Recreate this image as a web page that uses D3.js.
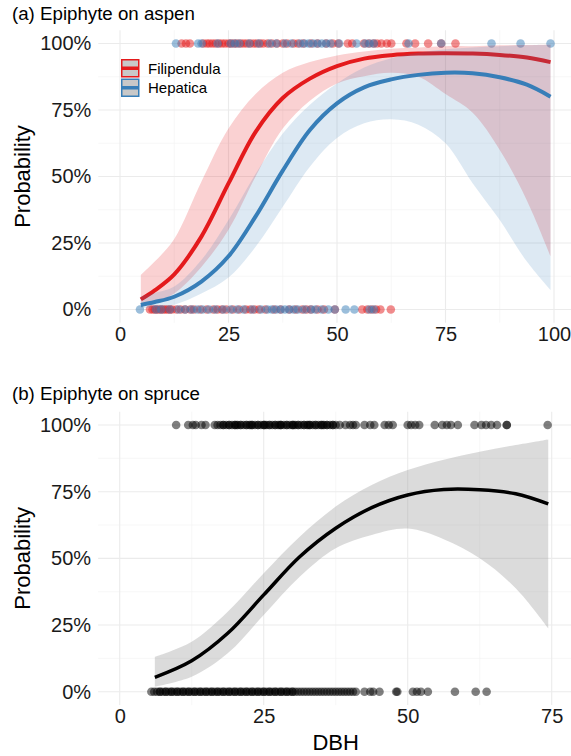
<!DOCTYPE html>
<html>
<head>
<meta charset="utf-8">
<script src="https://cdn.jsdelivr.net/npm/d3@7"></script>
<style>
  html, body { margin: 0; padding: 0; background: #fff; }
  svg { display: block; font-family: "Liberation Sans", Arial, Helvetica, sans-serif; }
</style>
</head>
<body>
<svg id="chart" width="571" height="756"></svg>
<script>
// ---------- data: epiphyte occurrence vs. tree diameter (DBH) ----------
// Aspen: observed presence (1) / absence (0) for each epiphyte
const filipendulaPresent = [14.2, 15.2, 16.1, 19.2, 20, 20.6, 21.3, 22, 22.8, 23.5, 24.2, 25, 25.6, 26.3, 27, 27.8, 28.5, 29.2, 30, 30.8, 31.5, 32.3, 33, 34, 35, 36.2, 37.5, 38.5, 40, 41, 42.2, 44, 45.5, 47.5, 49, 50.3, 52.5, 53.5, 56.2, 57.3, 58.4, 59.2, 60.2, 61.5, 62.5, 66, 68, 71, 74, 77.3];
const filipendulaAbsent = [6.9, 7.5, 8, 8.5, 9, 9.5, 10, 10.5, 11, 11.5, 12, 13, 14, 15, 16.2, 17, 18.5, 20, 21.5, 22.5, 23.5, 24.5, 26, 27.5, 29, 30, 31, 32, 33.5, 35.5, 37, 39, 40.5, 42, 43, 44, 45.5, 47, 49.5, 55.8, 57, 58, 59, 60, 62.4];
const hepaticaPresent = [12.9, 18, 18.8, 22.5, 25.5, 26.5, 27.5, 29.8, 32, 34.5, 36, 38, 39.5, 41.5, 42.5, 43.5, 44.5, 45.5, 46.5, 47.5, 48.5, 50.5, 54.5, 56.5, 57.5, 58.5, 66.5, 74, 85.6, 92.3, 99.2];
const hepaticaAbsent = [4.6, 8.3, 9.5, 11.5, 13.5, 15, 16.5, 17.8, 19, 20.5, 22, 23.8, 25.5, 27, 28.5, 30.5, 32.5, 34, 35, 36, 37, 38, 39, 40, 41, 42.5, 44, 45, 46.5, 48, 49.5, 52, 54, 57.5, 58.5];

// Aspen: fitted probability and confidence band
const aspenFitDBH = [4.8, 8, 12.5, 18.75, 25, 31.25, 37.5, 43.75, 50, 56.25, 62.5, 68.75, 75, 81.25, 87.5, 93.75, 99.2];
const filipendulaFit = [0.038, 0.072, 0.132, 0.274, 0.474, 0.668, 0.795, 0.868, 0.915, 0.943, 0.956, 0.962, 0.963, 0.962, 0.957, 0.947, 0.93];
const filipendulaUpper = [0.13, 0.18, 0.265, 0.48, 0.68, 0.81, 0.89, 0.93, 0.955, 0.97, 0.98, 0.985, 0.99, 0.99, 0.993, 0.994, 0.995];
const filipendulaLower = [0.01, 0.025, 0.06, 0.16, 0.30, 0.50, 0.68, 0.785, 0.85, 0.877, 0.89, 0.875, 0.81, 0.74, 0.60, 0.41, 0.2];
const hepaticaFit = [0.017, 0.028, 0.048, 0.105, 0.2, 0.35, 0.522, 0.675, 0.775, 0.835, 0.865, 0.882, 0.89, 0.888, 0.873, 0.845, 0.80];
const hepaticaUpper = [0.05, 0.062, 0.086, 0.186, 0.336, 0.51, 0.662, 0.77, 0.85, 0.91, 0.945, 0.965, 0.978, 0.985, 0.99, 0.993, 0.995];
const hepaticaLower = [0.004, 0.008, 0.018, 0.06, 0.12, 0.236, 0.386, 0.537, 0.645, 0.70, 0.715, 0.695, 0.625, 0.475, 0.336, 0.18, 0.073];

// Spruce: observed presence / absence
const sprucePresent = [9.8, 11.9, 12.7, 13.2, 14.2, 14.9, 16.5, 17, 17.5, 18, 18, 18.5, 19, 19, 19.5, 20, 20, 20.3, 20.5, 21, 21, 21.5, 22, 22, 22.5, 22.7, 23, 23, 23.5, 24, 24, 24.5, 25, 25, 25.2, 25.5, 26, 26, 26.5, 27, 27, 27.5, 27.8, 28, 28, 28.5, 29, 29, 29.5, 30, 30, 30.2, 30.5, 31, 31, 31.5, 32, 32, 32.5, 32.7, 33, 33, 33.5, 34, 34, 34.5, 35, 35, 35.3, 35.5, 36, 36, 36.5, 37, 37, 37.5, 38.2, 39.2, 40, 40.5, 41, 42.5, 43.5, 44.2, 46, 46.7, 47.4, 50, 50.6, 51.3, 52, 54.7, 56, 56.8, 57.5, 58.7, 61.6, 62.8, 63.6, 64.5, 65.5, 67.2, 67.2, 74.3];
const spruceAbsent = [5.5, 6, 6.5, 7, 7, 7.5, 8, 8, 8.5, 9, 9, 9.5, 10, 10, 10.5, 11, 11, 11.5, 12, 12, 12.5, 13, 13, 13.5, 14, 14, 14.5, 15, 15, 15.5, 16, 16, 16.5, 17, 17, 17.5, 18, 18, 18.5, 19, 19, 19.5, 20, 20, 20.5, 21, 21, 21.5, 22, 22, 22.5, 23, 23, 23.5, 24, 24, 24.5, 25, 25, 25.5, 26, 26, 26.5, 27, 27, 27.5, 28, 28, 28.5, 29, 29, 29.5, 30, 30, 30.5, 31, 31.5, 32, 32.5, 33, 33.5, 34, 34.5, 35, 35.5, 36, 36.5, 37, 37.5, 38, 38.5, 39, 39.5, 40, 40.5, 41, 42.5, 43.5, 44, 45.1, 48, 48.2, 50.9, 51.6, 52.3, 53.5, 58.2, 61.8, 63.7];

// Spruce: fitted probability and confidence band
const spruceFitDBH = [6.1, 12.5, 18.75, 25, 31.25, 37.5, 43.75, 50, 56.25, 62.5, 68.75, 74.4];
const spruceFit = [0.054, 0.116, 0.219, 0.363, 0.506, 0.613, 0.69, 0.7375, 0.758, 0.757, 0.742, 0.704];
const spruceUpper = [0.131, 0.1875, 0.30, 0.444, 0.581, 0.694, 0.775, 0.831, 0.87, 0.90, 0.925, 0.946];
const spruceLower = [0.019, 0.056, 0.144, 0.288, 0.431, 0.538, 0.588, 0.612, 0.572, 0.50, 0.388, 0.2375];

// Axis ticks
const aspenTicks = [0, 25, 50, 75, 100];
const aspenMinor = [12.5, 37.5, 62.5, 87.5];
const spruceTicks = [0, 25, 50, 75];
const spruceMinor = [12.5, 37.5, 62.5];
const probTicks = [0, 0.25, 0.5, 0.75, 1];
const probMinor = [0.125, 0.375, 0.625, 0.875];

const species = ["Filipendula", "Hepatica"];
const speciesColor = { Filipendula: "#E41A1C", Hepatica: "#377EB8" };

// ---------- drawing ----------
const svg = d3.select("#chart");
const W = 571;
svg.append("rect").attr("width", W).attr("height", 756).attr("fill", "#fff");

const fmtPct = d3.format(".0%");
const smoothCurve = d3.curveCatmullRom.alpha(0.5);

function panel(opts) {
  const { x, y, xTicks, xMinor, title, titleY, clipId } = opts;
  const [x0, x1] = x.domain();
  const xPad = (x1 - x0) * 0.05;
  const left = x(x0 - xPad), right = Math.min(W, x(x1 + xPad));
  const top = y(1.05), bottom = y(-0.05);

  const g = svg.append("g");

  // grid
  const grid = g.append("g");
  grid.selectAll(".ymin").data(probMinor).join("line")
    .attr("x1", left).attr("x2", right).attr("y1", d => y(d)).attr("y2", d => y(d))
    .attr("stroke", "#f2f2f2").attr("stroke-width", 0.6);
  grid.selectAll(".xmin").data(xMinor).join("line")
    .attr("y1", top).attr("y2", bottom).attr("x1", d => x(d)).attr("x2", d => x(d))
    .attr("stroke", "#f2f2f2").attr("stroke-width", 0.6);
  grid.selectAll(".ymaj").data(probTicks).join("line")
    .attr("x1", left).attr("x2", right).attr("y1", d => y(d)).attr("y2", d => y(d))
    .attr("stroke", "#ebebeb").attr("stroke-width", 1.1);
  grid.selectAll(".xmaj").data(xTicks).join("line")
    .attr("y1", top).attr("y2", bottom).attr("x1", d => x(d)).attr("x2", d => x(d))
    .attr("stroke", "#ebebeb").attr("stroke-width", 1.1);

  // axes (labels only, like a minimal theme)
  const yAxis = g.append("g").attr("transform", `translate(${left - 7},0)`)
    .call(d3.axisLeft(y).tickValues(probTicks).tickFormat(fmtPct).tickSize(0).tickPadding(0));
  yAxis.select(".domain").remove();
  yAxis.selectAll("text").attr("font-size", 20).attr("fill", "#1a1a1a")
    .attr("font-family", "Liberation Sans, Arial, sans-serif");

  const xAxis = g.append("g").attr("transform", `translate(0,${bottom + 4})`)
    .call(d3.axisBottom(x).tickValues(xTicks).tickSize(0).tickPadding(0));
  xAxis.select(".domain").remove();
  xAxis.selectAll("text").attr("font-size", 20).attr("fill", "#1a1a1a")
    .attr("font-family", "Liberation Sans, Arial, sans-serif");

  // y title
  g.append("text")
    .attr("transform", `translate(30,${(y(0) + y(1)) / 2}) rotate(-90)`)
    .attr("text-anchor", "middle").attr("font-size", 22).attr("fill", "#000")
    .text("Probability");

  // panel title
  g.append("text").attr("x", 12).attr("y", titleY)
    .attr("font-size", 18.7).attr("fill", "#000").text(title);

  svg.append("clipPath").attr("id", clipId)
    .append("rect").attr("x", left).attr("y", top).attr("width", right - left).attr("height", bottom - top);

  return g.append("g").attr("clip-path", `url(#${clipId})`);
}

function drawPoints(layer, x, y, xs, val, color, r) {
  layer.append("g").selectAll("circle").data(xs).join("circle")
    .attr("cx", d => x(d)).attr("cy", y(val)).attr("r", r)
    .attr("fill", color).attr("fill-opacity", 0.5);
}

function drawSmooth(layer, x, y, xs, fit, lo, hi, line, fill, fillOpacity, width) {
  const rows = xs.map((d, i) => ({ x: d, fit: fit[i], lo: lo[i], hi: hi[i] }));
  const area = d3.area().curve(smoothCurve)
    .x(d => x(d.x)).y0(d => y(d.lo)).y1(d => y(d.hi));
  const path = d3.line().curve(smoothCurve)
    .x(d => x(d.x)).y(d => y(d.fit));
  layer.append("path").datum(rows).attr("d", area)
    .attr("fill", fill).attr("fill-opacity", fillOpacity);
  layer.append("path").datum(rows).attr("d", path)
    .attr("fill", "none").attr("stroke", line).attr("stroke-width", width)
    .attr("stroke-linecap", "butt").attr("stroke-linejoin", "round");
}

// ----- (a) aspen -----
const xA = d3.scaleLinear().domain([0, 100]).range([120, 554]);
const yA = d3.scaleLinear().domain([0, 1]).range([309.5, 43.5]);
const layerA = panel({ x: xA, y: yA, xTicks: aspenTicks, xMinor: aspenMinor,
  title: "(a) Epiphyte on aspen", titleY: 20, clipId: "clipA" });

drawPoints(layerA, xA, yA, filipendulaPresent, 1, speciesColor.Filipendula, 4.3);
drawPoints(layerA, xA, yA, filipendulaAbsent, 0, speciesColor.Filipendula, 4.3);
drawPoints(layerA, xA, yA, hepaticaPresent, 1, speciesColor.Hepatica, 4.3);
drawPoints(layerA, xA, yA, hepaticaAbsent, 0, speciesColor.Hepatica, 4.3);

drawSmooth(layerA, xA, yA, aspenFitDBH, filipendulaFit, filipendulaLower, filipendulaUpper,
  speciesColor.Filipendula, speciesColor.Filipendula, 0.2, 4);
drawSmooth(layerA, xA, yA, aspenFitDBH, hepaticaFit, hepaticaLower, hepaticaUpper,
  speciesColor.Hepatica, speciesColor.Hepatica, 0.17, 4);

// legend
const legend = svg.append("g").attr("transform", "translate(121,59)");
species.forEach((s, i) => {
  const k = legend.append("g").attr("transform", `translate(0,${i * 19.5})`);
  k.append("rect").attr("x", 0.75).attr("y", 0.75).attr("width", 17).attr("height", 17)
    .attr("fill", "#c8c8c8").attr("stroke", speciesColor[s]).attr("stroke-width", 1.5);
  k.append("line").attr("x1", 0.75).attr("x2", 17.75).attr("y1", 9.25).attr("y2", 9.25)
    .attr("stroke", speciesColor[s]).attr("stroke-width", 3.5);
  k.append("text").attr("x", 27).attr("y", 14.5).attr("font-size", 15).attr("fill", "#000").text(s);
});

// ----- (b) spruce -----
const xB = d3.scaleLinear().domain([0, 75]).range([119.7, 551.7]);
const yB = d3.scaleLinear().domain([0, 1]).range([691.7, 425]);
const layerB = panel({ x: xB, y: yB, xTicks: spruceTicks, xMinor: spruceMinor,
  title: "(b) Epiphyte on spruce", titleY: 400, clipId: "clipB" });

drawPoints(layerB, xB, yB, sprucePresent, 1, "#000", 4.3);
drawPoints(layerB, xB, yB, spruceAbsent, 0, "#000", 4.3);
drawSmooth(layerB, xB, yB, spruceFitDBH, spruceFit, spruceLower, spruceUpper,
  "#000", "#999", 0.35, 3.5);

// x title
svg.append("text").attr("x", xB(37.5)).attr("y", 750)
  .attr("text-anchor", "middle").attr("font-size", 22).attr("fill", "#000").text("DBH");
</script>
</body>
</html>
